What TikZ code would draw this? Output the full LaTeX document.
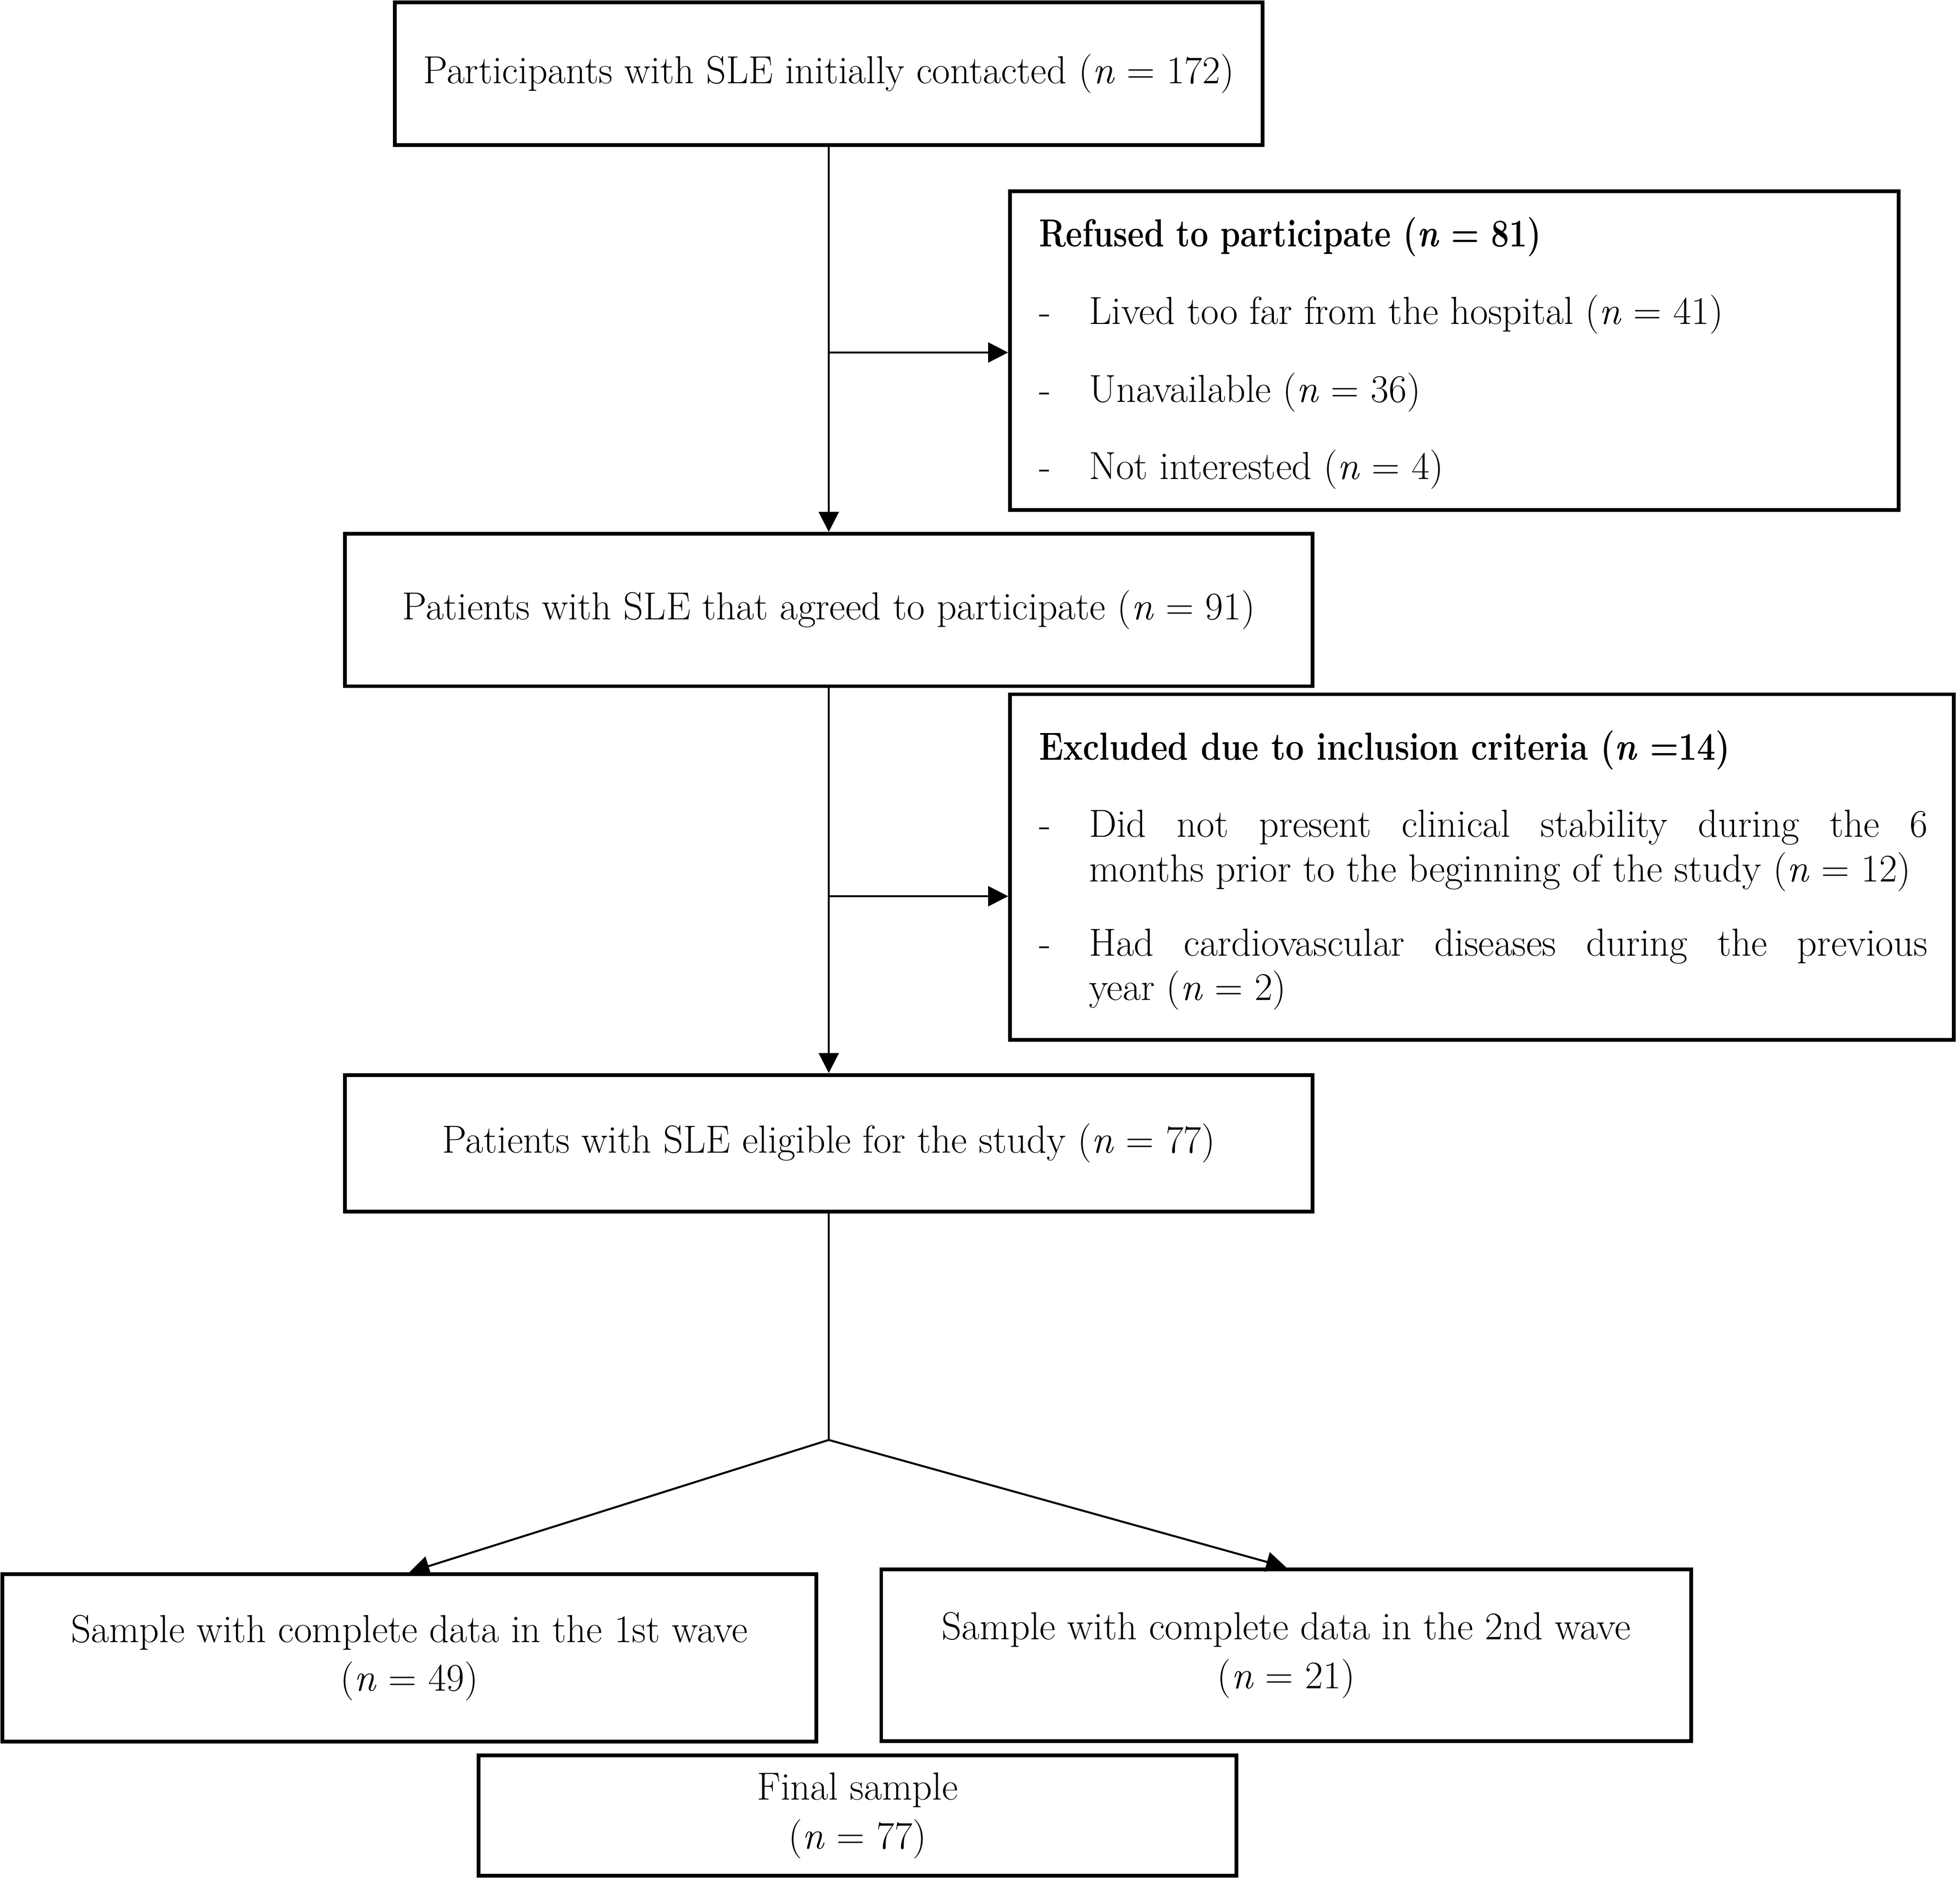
\documentclass[tikz,border=0pt]{standalone}
\usepackage{fontspec}
\usepackage{graphicx}
\usetikzlibrary{arrows.meta}
\newcommand\fsz{\fontsize{31.3}{39}\selectfont}
\begin{document}
\begin{tikzpicture}[x=1pt,y=-1pt,
  box/.style={draw, line width=3pt, inner sep=0pt, align=center, font=\fsz},
  lbl/.style={inner sep=0pt, font=\fsz, anchor=base west},
  conn/.style={line width=1.6pt},
  arr/.style={line width=1.6pt, -{Triangle[length=16pt,width=16pt]}},
]
\useasboundingbox (0,0) rectangle (1568,1504);

% boxes
\node[box, minimum width=694pt, minimum height=114pt] (b1) at (663,59)
  {Participants with SLE initially contacted (\textit{n} = 172)};
\node[box, minimum width=711pt, minimum height=255pt] (b2) at (1163.5,280.5) {};
\node[box, minimum width=774pt, minimum height=122pt] (b3) at (663,488)
  {Patients with SLE that agreed to participate (\textit{n} = 91)};
\node[box, minimum width=755pt, minimum height=276.5pt] (b4) at (1185.5,693.7) {};
\node[box, minimum width=774pt, minimum height=109.5pt] (b5) at (663,914.7)
  {Patients with SLE eligible for the study (\textit{n} = 77)};
\node[box, minimum width=651pt, minimum height=134pt] (b6) at (327.5,1326.3)
  {Sample with complete data in the 1st wave\\(\textit{n} = 49)};
\node[box, minimum width=648pt, minimum height=137.6pt] (b7) at (1029,1324.2)
  {Sample with complete data in the 2nd wave\\(\textit{n} = 21)};
\node[box, minimum width=606pt, minimum height=96.3pt] (b8) at (686,1452.6)
  {Final sample\\(\textit{n} = 77)};

% refused box text
\node[lbl] (r0) at (831,197.5) {\resizebox{402pt}{\height}{\textbf{Refused to participate (\textit{n} = 81)}}};
\node[lbl] (r1d) at (831,259.5) {-};
\node[lbl] (r1) at (871,259.5) {Lived too far from the hospital (\textit{n} = 41)};
\node[lbl] (r2d) at (831,321.7) {-};
\node[lbl] (r2) at (871,321.7) {Unavailable (\textit{n} = 36)};
\node[lbl] (r3d) at (831,383.6) {-};
\node[lbl] (r3) at (871,383.6) {Not interested (\textit{n} = 4)};

% excluded box text
\node[lbl] (e0) at (831,607.8) {\resizebox{553pt}{\height}{\textbf{Excluded due to inclusion criteria (\textit{n} =14)}}};
\node[lbl] (e1d) at (831,669.6) {-};
\node[lbl] (e1) at (871,669.6) {\makebox[671pt][s]{Did not present clinical stability during the 6}};
\node[lbl] (e2) at (871,705.5) {months prior to the beginning of the study (\textit{n} = 12)};
\node[lbl] (e3d) at (831,764.6) {-};
\node[lbl] (e3) at (871,764.6) {\makebox[671pt][s]{Had cardiovascular diseases during the previous}};
\node[lbl] (e4) at (871,800) {year (\textit{n} = 2)};

% connectors
\coordinate (j1) at (663,282);
\coordinate (j2) at (663,717);
\coordinate (sp) at (663,1152);
\draw[arr] (b1) -- (b3);
\draw[arr] (j1) -- (j1 -| b2.west);
\draw[arr] (b3) -- (b5);
\draw[arr] (j2) -- (j2 -| b4.west);
\draw[conn] (b5) -- (sp);
\draw[arr] (sp) -- (b6.north);
\draw[arr] (sp) -- (b7.north);
\end{tikzpicture}
\end{document}
